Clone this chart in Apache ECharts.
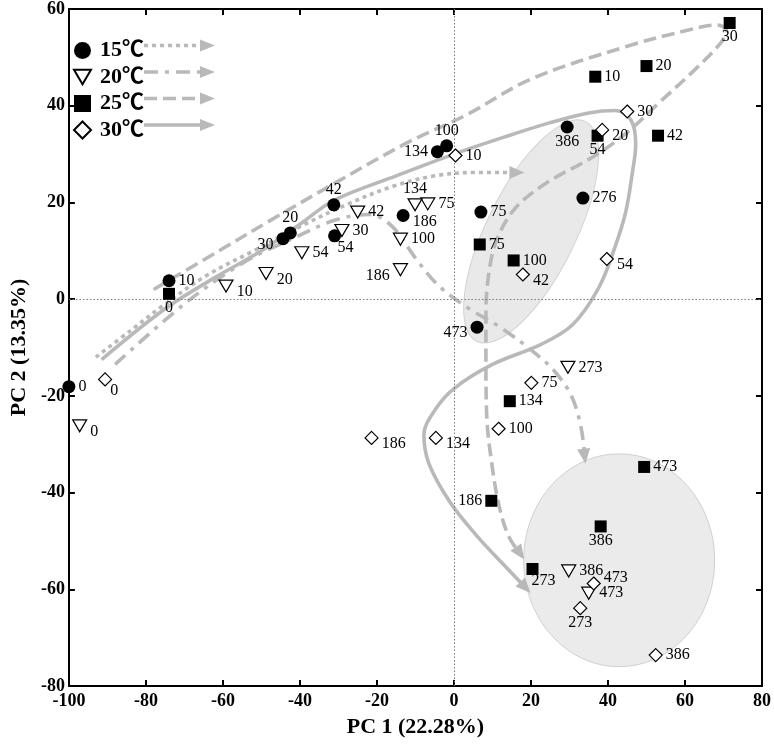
<!DOCTYPE html>
<html><head><meta charset="utf-8">
<script src="https://cdn.jsdelivr.net/npm/echarts@6/dist/echarts.min.js"></script>
<style>html,body{margin:0;padding:0;background:#fff}#c{width:774px;height:744px}</style>
</head><body><div id="c"></div>
<script>
// ---------- data ----------
const seriesNames = ['15℃', '20℃', '25℃', '30℃'];
const times15 = [0, 10, 20, 30, 42, 54, 75, 100, 134, 186, 276, 386, 473];
const times20 = [0, 10, 20, 30, 42, 54, 75, 100, 134, 186, 273, 386, 473];
const times25 = [0, 10, 20, 30, 42, 54, 75, 100, 134, 186, 273, 386, 473];
const times30 = [0, 10, 20, 30, 42, 54, 75, 100, 134, 186, 273, 386, 473];

const pc1_15 = [-100, -74, -42.5, -44.4, -31.2, -31, 7.0, -1.9, -4.3, -13.2, 33.5, 29.4, 6.0];
const pc2_15 = [-18.1, 3.8, 13.7, 12.5, 19.5, 13.1, 18.0, 31.7, 30.5, 17.3, 20.9, 35.6, -5.8];

const pc1_20 = [-97.2, -59.2, -48.8, -29.1, -25, -39.5, -6.8, -13.9, -10.1, -13.9, 29.6, 29.8, 35.0];
const pc2_20 = [-26.2, 2.7, 5.3, 14.2, 18.0, 9.6, 19.7, 12.4, 19.5, 6.1, -14.1, -56.2, -60.8];

const pc1_25 = [-74, 36.7, 50.0, 71.6, 53.0, 37.3, 6.7, 15.5, 14.5, 9.7, 20.4, 38.1, 49.4];
const pc2_25 = [1.1, 46.0, 48.2, 57.1, 33.8, 33.8, 11.3, 8.0, -21.1, -41.7, -55.8, -47.0, -34.7];

const pc1_30 = [-90.6, 0.4, 38.5, 45.0, 17.9, 39.7, 20.1, 11.6, -4.7, -21.4, 32.8, 52.4, 36.3];
const pc2_30 = [-16.6, 29.7, 35.0, 38.8, 5.1, 8.3, -17.3, -26.8, -28.7, -28.7, -63.9, -73.6, -58.8];

// trajectory guide paths (data coordinates)
const path15 = [[-93,-12],[-84,-6.5],[-75,-1],[-64,5],[-52,10],[-40,15],[-28,19.5],[-16,23.3],[-5,25.5],[6,26.2],[17,26.2]];
const path20 = [[-88,-13.5],[-70,-1],[-55,7.4],[-42,12.5],[-31,16.3],[-22,17.5],[-16,15],[-10,8.5],[-4,2.8],[4,-2],[12,-5.8],[20,-10.5],[26,-14.8],[30.5,-20],[33,-26.5],[34,-33]];
const path25 = [[-78,2],[-61,10],[-47,16.6],[-32,23.5],[-12,32.4],[3,38],[20,45.5],[45,52.3],[61.7,55.8],[68.4,56.7],[70.8,55.5],[69.3,53],[61.7,46.8],[53.4,40.7],[45,34.5],[36.7,29.7],[24,24],[15.8,18.7],[11,12],[9,5],[8.3,-3],[8.3,-12],[8.5,-24],[10,-35],[11.8,-43],[14.2,-49],[17.5,-53]];
const path30 = [[-91.5,-12.5],[-75,-2],[-62,4.5],[-50,10],[-40,15.5],[-31,20.5],[-15,25.5],[0,30],[13,33.5],[25,36.5],[35,38.5],[42,39],[46,37],[47.2,32],[46.3,26],[44.6,18],[41.7,10.5],[37.5,2.2],[30.8,-5.3],[22.5,-9.4],[10,-13.5],[0,-18.5],[-5,-23],[-7.8,-28],[-6.5,-34],[-1,-42],[6,-49],[13,-55],[19,-60]];

// shaded clusters
const clusterEllipse = [34.2, 36.7, 5.9, -8.7];   // major-axis end points (x1,y1,x2,y2)
const clusterCircle = [42.9, -54.0, 24.8, 22.0];  // centre x, centre y, radius x, radius y

const xTicks = {min: -100, max: 80, step: 20};
const yTicks = {min: -80, max: 60, step: 20};

// ---------- layout / style (kept apart from the data) ----------
const pos15 = ['r','r','t','bl','t','bR','r','t','l','br','r','b','bl'];
const pos20 = ['br','br','br','r','r','r','r','r','t','bl','r','r','r'];
const pos25 = ['b','r','r','b','r','b','r','r','r','l','bR','b','r'];
const pos30 = ['br2','r','br','r','br','br','r','r','br','br','b','r','tr'];

const GRAY = '#b9b9b9';
const SERIF = "'Liberation Serif','Times New Roman','Noto Sans CJK SC',serif";
const lineTypes = [[4,4], [14,7,4,7], [13,6], 'solid'];
const ellipseRatio = 0.363;

function labelCfg(p) {
  const base = {show: true, fontFamily: SERIF, fontSize: 16, color: '#000', formatter: q => String(q.value[2])};
  const m = {
    r: {position: 'right', distance: 3},
    l: {position: 'left', distance: 3},
    t: {position: 'top', distance: 1},
    b: {position: 'bottom', distance: 0},
    br: {position: 'right', distance: 3, offset: [0, 6]},
    br2: {position: 'right', distance: 0, offset: [-2, 11]},
    bl: {position: 'left', distance: 3, offset: [0, 6]},
    tr: {position: 'right', distance: 3, offset: [0, -6]},
    bR: {position: 'bottom', distance: 0, offset: [11, -2]}
  };
  return Object.assign(base, m[p]);
}
function pts(xs, ys, ts, pos) {
  return xs.map((x, i) => ({value: [x, ys[i], ts[i]], label: labelCfg(pos[i])}));
}

const scatterDefs = [
  {name: seriesNames[0], data: pts(pc1_15, pc2_15, times15, pos15), symbol: 'circle', symbolSize: 13,
   itemStyle: {color: '#000', opacity: 1}},
  {name: seriesNames[1], data: pts(pc1_20, pc2_20, times20, pos20), symbol: 'path://M0,0L14,0L7,12Z', symbolSize: [14, 12],
   itemStyle: {color: '#fff', borderColor: '#000', borderWidth: 1.2, opacity: 1}},
  {name: seriesNames[2], data: pts(pc1_25, pc2_25, times25, pos25), symbol: 'rect', symbolSize: 12,
   itemStyle: {color: '#000', opacity: 1}},
  {name: seriesNames[3], data: pts(pc1_30, pc2_30, times30, pos30), symbol: 'diamond', symbolSize: 13,
   itemStyle: {color: '#fff', borderColor: '#000', borderWidth: 1.2, opacity: 1}}
];

const paths = [path15, path20, path25, path30];
const series = [];

// shaded ellipse (tilted)
series.push({
  type: 'custom', silent: true, z: 1,
  data: [clusterEllipse],
  renderItem(params, api) {
    const p1 = api.coord([api.value(0), api.value(1)]);
    const p2 = api.coord([api.value(2), api.value(3)]);
    const cx = (p1[0] + p2[0]) / 2, cy = (p1[1] + p2[1]) / 2;
    const a = Math.hypot(p1[0] - p2[0], p1[1] - p2[1]) / 2;
    const rot = Math.atan2(-(p1[1] - p2[1]), p1[0] - p2[0]);
    return {type: 'ellipse', x: cx, y: cy, rotation: rot,
      shape: {cx: 0, cy: 0, rx: a, ry: a * ellipseRatio},
      style: {fill: '#e9e9e9', stroke: '#d2d2d2', lineWidth: 1}};
  }
});
// shaded circle
series.push({
  type: 'custom', silent: true, z: 1,
  data: [clusterCircle],
  renderItem(params, api) {
    const c = api.coord([api.value(0), api.value(1)]);
    const s = api.size([api.value(2), api.value(3)]);
    return {type: 'ellipse', shape: {cx: c[0], cy: c[1], rx: s[0], ry: s[1]},
      style: {fill: '#ebebeb', stroke: '#d0d0d0', lineWidth: 1}};
  }
});
// zero reference lines
series.push({
  type: 'line', data: [], silent: true, z: 2,
  markLine: {silent: true, symbol: 'none', label: {show: false},
    lineStyle: {color: '#777', width: 1, type: [1.5, 2]},
    data: [{xAxis: 0}, {yAxis: 0}]}
});
// trajectory curves
paths.forEach((p, i) => {
  series.push({type: 'line', data: p, smooth: 0.35, showSymbol: false, silent: true, z: 3,
    lineStyle: {color: GRAY, width: 3.6, type: lineTypes[i], cap: 'butt'}});
});
// arrow heads from the end of each path
series.push({
  type: 'custom', silent: true, z: 3,
  data: paths.map(p => [p[p.length - 2][0], p[p.length - 2][1], p[p.length - 1][0], p[p.length - 1][1]]),
  renderItem(params, api) {
    const a = api.coord([api.value(0), api.value(1)]);
    const b = api.coord([api.value(2), api.value(3)]);
    const ang = Math.atan2(b[1] - a[1], b[0] - a[0]);
    const L = 15, W = 6.5;
    const tip = [b[0] + Math.cos(ang) * 5, b[1] + Math.sin(ang) * 5];
    const base = [tip[0] - Math.cos(ang) * L, tip[1] - Math.sin(ang) * L];
    const nx = -Math.sin(ang), ny = Math.cos(ang);
    return {type: 'polygon', shape: {points: [tip, [base[0] + nx * W, base[1] + ny * W], [base[0] - nx * W, base[1] - ny * W]]},
      style: {fill: GRAY}};
  }
});
// points
scatterDefs.forEach(d => series.push(Object.assign({type: 'scatter', z: 5}, d)));

// legend line samples (decoration)
const legendRowsY = [45.5, 72, 98.5, 125];
const graphics = [];
legendRowsY.forEach((y, i) => {
  graphics.push({type: 'line', shape: {x1: 144, y1: y, x2: 202, y2: y},
    style: {stroke: GRAY, lineWidth: 3.6, lineDash: lineTypes[i] === 'solid' ? null : lineTypes[i]}, z: 10});
  graphics.push({type: 'polygon', shape: {points: [[200, y - 6], [215, y], [200, y + 6]]}, style: {fill: GRAY}, z: 10});
});

const axisLabelStyle = {fontFamily: SERIF, fontWeight: 'bold', fontSize: 18, color: '#000'};
const axisLineStyle = {show: true, onZero: false, lineStyle: {color: '#000', width: 2}};

const option = {
  animation: false,
  backgroundColor: '#fff',
  grid: {left: 48, right: 8, top: 6, bottom: 58, containLabel: false},
  legend: {
    data: seriesNames, orient: 'vertical', left: 68, top: 34.5,
    itemWidth: 17, itemHeight: 17, itemGap: 4.5, selectedMode: false,
    textStyle: {fontFamily: SERIF, fontWeight: 'bold', fontSize: 22, color: '#000', lineHeight: 22, padding: [0, 0, 0, 4]}
  },
  xAxis: [
    {type: 'value', min: xTicks.min, max: xTicks.max, interval: xTicks.step, position: 'bottom',
     name: 'PC 1 (22.28%)', nameLocation: 'middle', nameGap: 30,
     nameTextStyle: {fontFamily: SERIF, fontWeight: 'bold', fontSize: 22, color: '#000'},
     axisLine: axisLineStyle, axisTick: {inside: true, length: 6, lineStyle: {color: '#000', width: 2}},
     axisLabel: Object.assign({margin: 6, showMinLabel: true, showMaxLabel: true}, axisLabelStyle),
     splitLine: {show: false}},
    {type: 'value', min: xTicks.min, max: xTicks.max, interval: xTicks.step, position: 'top',
     axisLine: axisLineStyle, axisTick: {inside: true, length: 6, lineStyle: {color: '#000', width: 2}},
     axisLabel: {show: false}, splitLine: {show: false}}
  ],
  yAxis: [
    {type: 'value', min: yTicks.min, max: yTicks.max, interval: yTicks.step, position: 'left',
     name: 'PC 2 (13.35%)', nameLocation: 'middle', nameGap: 25, nameRotate: 90,
     nameTextStyle: {fontFamily: SERIF, fontWeight: 'bold', fontSize: 22, color: '#000'},
     axisLine: axisLineStyle, axisTick: {inside: true, length: 6, lineStyle: {color: '#000', width: 2}},
     axisLabel: Object.assign({margin: 4, showMinLabel: true, showMaxLabel: true}, axisLabelStyle),
     splitLine: {show: false}},
    {type: 'value', min: yTicks.min, max: yTicks.max, interval: yTicks.step, position: 'right',
     axisLine: axisLineStyle, axisTick: {inside: true, length: 6, lineStyle: {color: '#000', width: 2}},
     axisLabel: {show: false}, splitLine: {show: false}}
  ],
  graphic: graphics,
  series: series
};

const chart = echarts.init(document.getElementById('c'), null, {renderer: 'canvas'});
chart.setOption(option);
</script>
</body></html>
